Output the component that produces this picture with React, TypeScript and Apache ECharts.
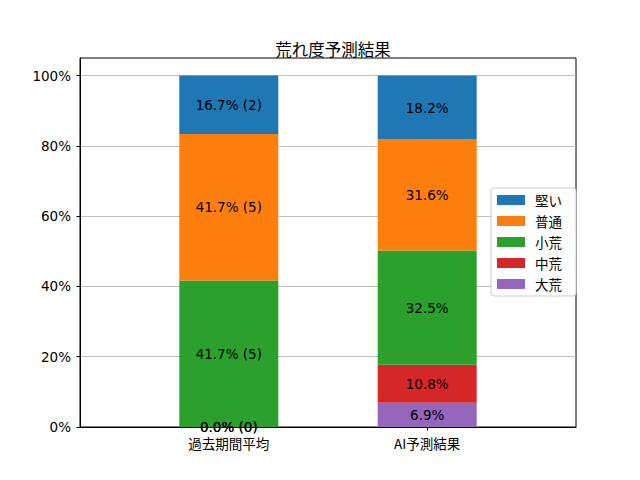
import React, { useEffect, useRef } from "react";
import * as echarts from "echarts";

const categories = ["過去期間平均", "AI予測結果"];
const seriesNames = ["大荒", "中荒", "小荒", "普通", "堅い"];
const legendOrder = ["堅い", "普通", "小荒", "中荒", "大荒"];
const colors = ["#9467bd", "#d62728", "#2ca02c", "#ff7f0e", "#1f77b4"];
// percentages per series, [過去期間平均, AI予測結果]
const pastPercent = [0.0, 0.0, 41.67, 41.67, 16.67];
const pastCounts = [0, 0, 5, 5, 2];
const aiPercent = [6.9, 10.8, 32.5, 31.6, 18.2];
const yTicks = [0, 20, 40, 60, 80, 100];

const FONT = "DejaVu Sans, 'Noto Sans CJK JP', sans-serif";
const CJK_FONT = "'Noto Sans CJK JP', DejaVu Sans, sans-serif";

// padded slots so the two bars sit where the reference puts them
const slots = ["", categories[0], "", categories[1], ""];
const isBarSlot = (i: number) => i === 1 || i === 3;

export default function App() {
  const ref = useRef<HTMLDivElement>(null);
  useEffect(() => {
    document.body.style.margin = "0";
    const chart = echarts.init(ref.current!, undefined, { renderer: "svg" });
    const series = seriesNames.map((name, si) => ({
      name,
      type: "bar",
      stack: "total",
      barWidth: 99,
      itemStyle: { color: colors[si] },
      label: {
        show: true,
        position: "inside",
        color: "#000",
        fontSize: 13.5,
        fontFamily: FONT,
        formatter: (p: any) => {
          const v = p.value as number;
          return p.dataIndex === 1
            ? `${v.toFixed(1)}% (${pastCounts[si]})`
            : `${v.toFixed(1)}%`;
        },
      },
      data: ["-", pastPercent[si], "-", aiPercent[si], "-"],
    }));
    chart.setOption({
      animation: false,
      textStyle: { fontFamily: FONT },
      title: {
        text: "荒れ度予測結果",
        left: 328,
        top: 36,
        textAlign: "center",
        textStyle: { fontSize: 16.5, fontWeight: "normal", color: "#000", fontFamily: CJK_FONT },
      },
      legend: {
        data: legendOrder,
        orient: "vertical",
        left: 491,
        top: 188,
        itemWidth: 28,
        itemHeight: 10,
        itemGap: 7,
        padding: [5, 14, 5, 6],
        borderColor: "#cccccc",
        borderWidth: 1,
        borderRadius: 3,
        backgroundColor: "#fff",
        icon: "rect",
        textStyle: {
          fontSize: 13.5,
          lineHeight: 14,
          color: "#000",
          fontFamily: CJK_FONT,
          padding: [0, 0, 0, 5],
        },
      },
      grid: {
        left: 80,
        right: 64,
        top: 58,
        bottom: 53,
        show: true,
        borderColor: "#000",
        borderWidth: 1,
        backgroundColor: "transparent",
        containLabel: false,
      },
      xAxis: {
        type: "category",
        data: slots,
        boundaryGap: true,
        splitLine: { show: false },
        axisLine: { show: true, lineStyle: { color: "#000" } },
        axisTick: {
          show: true,
          alignWithLabel: true,
          length: 3.5,
          lineStyle: { color: "#000" },
          interval: (i: number) => isBarSlot(i),
        },
        axisLabel: {
          show: true,
          interval: (i: number) => isBarSlot(i),
          margin: 9,
          fontSize: 13.5,
          color: "#000",
          fontFamily: CJK_FONT,
        },
      },
      yAxis: {
        type: "value",
        min: 0,
        max: 105,
        interval: 20,
        splitLine: { show: true, lineStyle: { color: "#b0b0b0", width: 0.8 } },
        axisLine: { show: true, onZero: false, lineStyle: { color: "#000" } },
        axisTick: {
          show: true,
          length: 3.5,
          lineStyle: { color: "#000" },
          customValues: yTicks,
        },
        axisLabel: {
          show: true,
          customValues: yTicks,
          margin: 9,
          fontSize: 13.5,
          color: "#000",
          fontFamily: FONT,
          formatter: (v: number) => `${v}%`,
        },
      },
      series,
    });
    return () => chart.dispose();
  }, []);
  return <div ref={ref} style={{ width: 640, height: 480 }} />;
}
